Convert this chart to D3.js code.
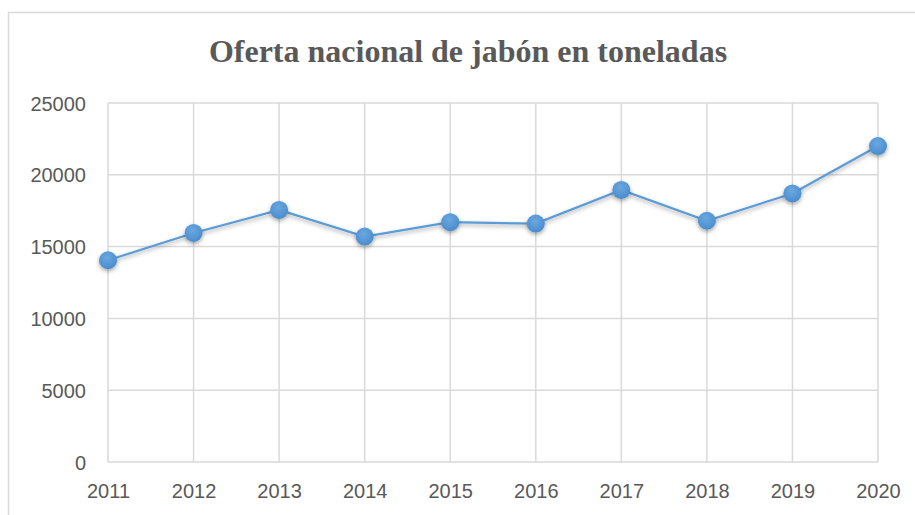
<!DOCTYPE html>
<html>
<head>
<meta charset="utf-8">
<script src="https://cdn.jsdelivr.net/npm/d3@7"></script>
<style>
  body { margin: 0; background: #fff; }
</style>
</head>
<body>
<div id="chart"></div>
<script>
// data
var years = ["2011","2012","2013","2014","2015","2016","2017","2018","2019","2020"];
var values = [14050, 15950, 17550, 15700, 16700, 16600, 18950, 16800, 18700, 22000];
var yTicks = [0, 5000, 10000, 15000, 20000, 25000];
var title = "Oferta nacional de jabón en toneladas";

var W = 915, H = 515;
var margin = {top: 103, right: 37, bottom: 53, left: 108};
var width = W - margin.left - margin.right,
    height = H - margin.top - margin.bottom;

var svg = d3.select("#chart").append("svg")
  .attr("width", W)
  .attr("height", H);

// drop shadow for line + markers
var defs = svg.append("defs");
var f = defs.append("filter").attr("id", "shadow")
  .attr("x", "-50%").attr("y", "-50%").attr("width", "200%").attr("height", "200%");
f.append("feDropShadow")
  .attr("dx", 0).attr("dy", 2).attr("stdDeviation", 2)
  .attr("flood-color", "#000").attr("flood-opacity", 0.35);

var grad = defs.append("radialGradient").attr("id", "dot")
  .attr("cx", "45%").attr("cy", "35%").attr("r", "65%");
grad.append("stop").attr("offset", "0%").attr("stop-color", "#6aa8e0");
grad.append("stop").attr("offset", "100%").attr("stop-color", "#4a8ccc");

// chart border (cropped on right/bottom)
svg.append("rect")
  .attr("x", 8.5).attr("y", 12.5)
  .attr("width", 940).attr("height", 540)
  .attr("fill", "none")
  .attr("stroke", "#d9d9d9")
  .attr("stroke-width", 1.5);

svg.append("text")
  .attr("x", 468).attr("y", 62)
  .attr("text-anchor", "middle")
  .attr("font-family", "'Liberation Serif', 'Times New Roman', serif")
  .attr("font-weight", "bold")
  .attr("font-size", 32)
  .attr("fill", "#595959")
  .text(title);

var g = svg.append("g")
  .attr("transform", "translate(" + margin.left + "," + margin.top + ")");

var x = d3.scalePoint()
  .domain(years)
  .range([0, width]);

var y = d3.scaleLinear()
  .domain([0, 25000])
  .range([height, 0]);

// gridlines
g.selectAll(".hgrid")
  .data(yTicks)
  .enter().append("line")
    .attr("x1", 0).attr("x2", width)
    .attr("y1", function(d){ return y(d) })
    .attr("y2", function(d){ return y(d) })
    .attr("stroke", "#d9d9d9")
    .attr("stroke-width", 1.5);

g.selectAll(".vgrid")
  .data(years)
  .enter().append("line")
    .attr("x1", function(d){ return x(d) })
    .attr("x2", function(d){ return x(d) })
    .attr("y1", 0).attr("y2", height)
    .attr("stroke", "#d9d9d9")
    .attr("stroke-width", 1.5);

// axes (labels only)
var yAxis = g.append("g")
  .attr("transform", "translate(-22,0)")
  .call(d3.axisLeft(y).tickValues(yTicks).tickSize(0).tickFormat(d3.format("d")));
var xAxis = g.append("g")
  .attr("transform", "translate(0," + (height + 22) + ")")
  .call(d3.axisBottom(x).tickSize(0));

[yAxis, xAxis].forEach(function(a) {
  a.select(".domain").remove();
  a.selectAll("text")
    .attr("font-family", "'Liberation Sans', Arial, sans-serif")
    .attr("font-size", 20)
    .attr("fill", "#595959");
});
yAxis.selectAll("text").attr("x", 0).attr("dy", "0.35em");
xAxis.selectAll("text").attr("y", 0).attr("dy", "0.71em");

// line
var line = d3.line()
  .x(function(d, i){ return x(years[i]) })
  .y(function(d){ return y(d) });

g.append("path")
  .datum(values)
  .attr("d", line)
  .attr("fill", "none")
  .attr("stroke", "#5b9bd5")
  .attr("stroke-width", 2.25)
  .attr("filter", "url(#shadow)");

g.selectAll(".dot")
  .data(values)
  .enter().append("circle")
    .attr("cx", function(d, i){ return x(years[i]) })
    .attr("cy", function(d){ return y(d) })
    .attr("r", 9)
    .attr("fill", "url(#dot)")
    .attr("filter", "url(#shadow)");
</script>
</body>
</html>
